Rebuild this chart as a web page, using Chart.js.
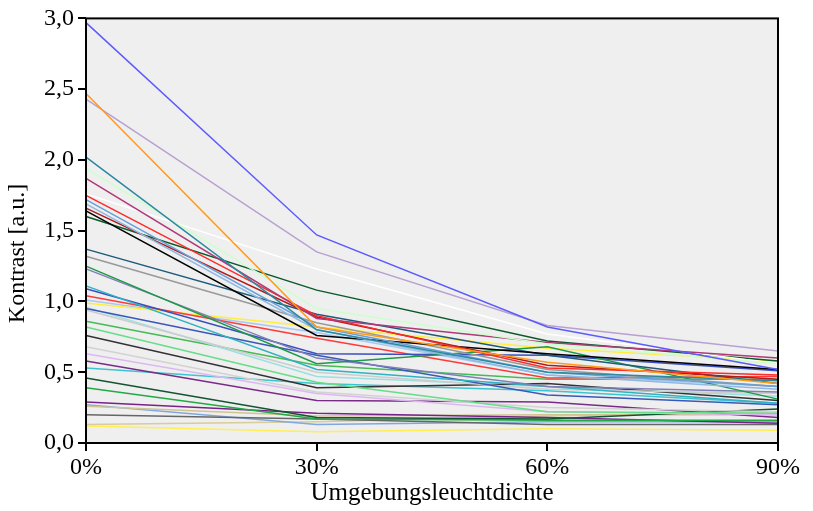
<!DOCTYPE html>
<html>
<head>
<meta charset="utf-8">
<script src="https://cdn.jsdelivr.net/npm/chart.js@4/dist/chart.umd.min.js"></script>
<style>
  html, body { margin: 0; padding: 0; background: #ffffff; }
  #wrap { width: 813px; height: 511px; position: relative; }
</style>
</head>
<body>
<div id="wrap"><canvas id="c" width="813" height="511"></canvas></div>
<script>
// ---- data ----
const categories = ['0%', '30%', '60%', '90%'];
const yTickValues = [0, 0.5, 1.0, 1.5, 2.0, 2.5, 3.0];
const xTitle = 'Umgebungsleuchtdichte';
const yTitle = 'Kontrast [a.u.]';

// contrast value of each curve at each ambient level
const kontrast0  = [2.97, 2.47, 2.43, 2.02, 1.94, 1.87, 1.76, 1.75, 1.72, 1.69, 1.66, 1.64, 1.60, 1.37, 1.32, 1.25, 1.23, 1.11, 1.09, 1.04, 0.99, 0.95, 0.94, 1.01, 0.82, 0.76, 0.68, 0.63, 0.58, 0.53, 0.46, 0.39, 0.29, 0.26, 0.20, 0.27, 0.13, 0.12, 0.96, 0.86];
const kontrast30 = [1.47, 0.82, 1.35, 0.80, 0.95, 0.88, 1.23, 0.90, 0.82, 0.80, 0.89, 0.76, 1.08, 0.91, 0.85, 0.56, 0.60, 0.52, 0.63, 0.74, 0.82, 0.62, 0.50, 0.78, 0.43, 0.39, 0.36, 0.35, 0.30, 0.42, 0.18, 0.17, 0.21, 0.19, 0.17, 0.13, 0.15, 0.08, 0.47, 0.55];
const kontrast60 = [0.82, 0.57, 0.83, 0.50, 0.70, 0.71, 0.77, 0.53, 0.50, 0.48, 0.55, 0.63, 0.72, 0.62, 0.52, 0.68, 0.40, 0.40, 0.62, 0.46, 0.67, 0.34, 0.38, 0.48, 0.22, 0.42, 0.25, 0.22, 0.29, 0.37, 0.17, 0.16, 0.18, 0.20, 0.13, 0.15, 0.19, 0.10, 0.40, 0.45];
const kontrast90 = [0.52, 0.42, 0.65, 0.44, 0.56, 0.60, 0.56, 0.48, 0.40, 0.38, 0.45, 0.52, 0.58, 0.42, 0.40, 0.31, 0.36, 0.28, 0.51, 0.47, 0.58, 0.27, 0.35, 0.40, 0.21, 0.30, 0.22, 0.20, 0.18, 0.28, 0.24, 0.16, 0.14, 0.20, 0.13, 0.15, 0.22, 0.09, 0.33, 0.45];

// ---- styles ----
const lineColors = ['#5b5bff', '#ff9a1a', '#b9a0d2', '#2a8aa0', '#ccffcc', '#b03a78', '#ffffff', '#ff2a2a', '#6aa0d8', '#8fb8e4',
                    '#b01c1c', '#000000', '#0a5a2a', '#1e5a7a', '#999999', '#1e9a46', '#8080b8', '#2fb2c2', '#3a4fc0', '#ff3a3a',
                    '#ffee40', '#3a58b8', '#cccccc', '#a8c8f0', '#66dd88', '#333333', '#d2d2d2', '#dcb8f2', '#7a2a88', '#3ec4d0',
                    '#115533', '#22aa44', '#772288', '#d0c490', '#666666', '#80a8e0', '#d8cc98', '#ffee55', '#99e0e0', '#44bb55'];

const FONT = "'Liberation Serif', 'DejaVu Serif', serif";

const datasets = kontrast0.map((v, i) => ({
  label: 'Kurve ' + (i + 1),
  data: [kontrast0[i], kontrast30[i], kontrast60[i], kontrast90[i]],
  borderColor: lineColors[i],
  backgroundColor: lineColors[i],
  borderWidth: 1.5,
  pointRadius: 0,
  tension: 0,
  fill: false
}));

const framePlugin = {
  id: 'frame',
  beforeDatasetsDraw(chart) {
    const { ctx, chartArea: a } = chart;
    ctx.save();
    ctx.fillStyle = '#efefef';
    ctx.fillRect(a.left, a.top, a.right - a.left, a.bottom - a.top);
    ctx.restore();
  },
  afterDraw(chart) {
    const { ctx, chartArea: a } = chart;
    ctx.save();
    ctx.strokeStyle = '#000';
    ctx.lineWidth = 2;
    ctx.strokeRect(a.left, a.top, a.right - a.left, a.bottom - a.top);
    // y axis title, centred on the figure height
    ctx.translate(18, chart.height / 2 - 2);
    ctx.rotate(-Math.PI / 2);
    ctx.fillStyle = '#000';
    ctx.font = "24px " + FONT;
    ctx.textAlign = 'center';
    ctx.textBaseline = 'middle';
    ctx.fillText(yTitle, 0, 0);
    ctx.restore();
  }
};

new Chart(document.getElementById('c'), {
  type: 'line',
  data: { labels: categories, datasets },
  plugins: [framePlugin],
  options: {
    responsive: false,
    animation: false,
    devicePixelRatio: 1,
    layout: { padding: { top: 15, right: 35, left: 0, bottom: 0 } },
    plugins: { legend: { display: false }, tooltip: { enabled: false } },
    scales: {
      x: {
        type: 'category',
        offset: false,
        grid: { drawOnChartArea: false, drawTicks: true, tickLength: 8, color: '#000', lineWidth: 2, offset: false },
        border: { display: false },
        ticks: { color: '#000', font: { family: FONT, size: 24 }, padding: 2, maxRotation: 0, autoSkip: false },
        title: { display: true, text: xTitle, color: '#000', font: { family: FONT, size: 25 }, padding: { top: 0, bottom: 3 } },
        afterFit(scale) { scale.height = 68; }
      },
      y: {
        min: 0, max: 3,
        afterBuildTicks(scale) { scale.ticks = yTickValues.map(v => ({ value: v })); },
        grid: { drawOnChartArea: false, drawTicks: true, tickLength: 8, color: '#000', lineWidth: 2 },
        border: { display: false },
        ticks: {
          color: '#000', font: { family: FONT, size: 24 }, padding: 4,
          callback: v => v.toFixed(1).replace('.', ',')
        },
        afterFit(scale) { scale.width = 86; }
      }
    }
  }
});
</script>
</body>
</html>
